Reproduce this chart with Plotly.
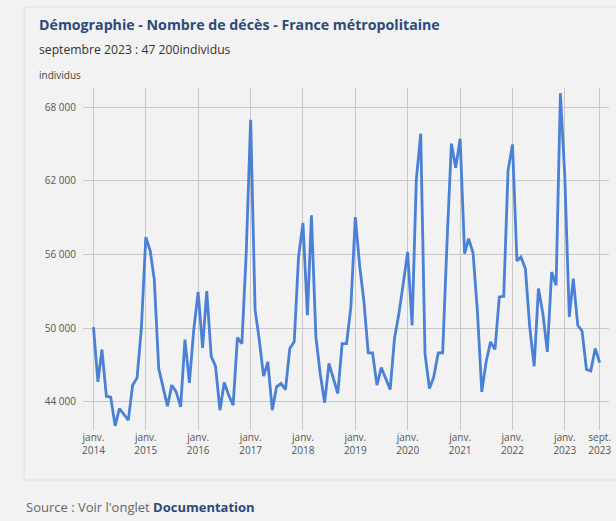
import plotly.graph_objects as go
import pandas as pd

start_month = "2014-01-01"
deaths = [
    50100, 45630, 48270, 44470, 44400, 42060, 43470, 42980, 42520, 45370, 45960, 49980,
    57420, 56280, 53960, 46720, 45230, 43660, 45370, 44820, 43600, 49080, 45550, 49840,
    52950, 48400, 53030, 47720, 46910, 43330, 45580, 44550, 43740, 49240, 48750, 56070,
    66970, 51520, 49160, 46100, 47260, 43330, 45230, 45500, 45010, 48350, 48890, 55800,
    58560, 51060, 59190, 49300, 46320, 43940, 47130, 45910, 44690, 48750, 48750, 51730,
    59050, 54990, 52280, 47990, 47990, 45370, 46800, 45910, 45010, 49160, 51190, 53630,
    56200, 50240, 62030, 65830, 47940, 45090, 46040, 47990, 47990, 56880, 65020, 63060,
    65420, 56070, 57290, 56120, 51460, 44820, 47260, 48890, 48270, 52550, 52600, 62850,
    64960, 55470, 55800, 54850, 50110, 46910, 53230, 51190, 48080, 54580, 53500, 69130,
    62300, 50920, 54040, 50240, 49780, 46640, 46530, 48350, 47200,
]
months = pd.date_range(start_month, periods=len(deaths), freq="MS")

x_tickvals = ["2014-01-01", "2015-01-01", "2016-01-01", "2017-01-01", "2018-01-01",
              "2019-01-01", "2020-01-01", "2021-01-01", "2022-01-01", "2023-01-01",
              "2023-09-01"]
x_ticktext = ["janv.<br>2014", "janv.<br>2015", "janv.<br>2016", "janv.<br>2017",
              "janv.<br>2018", "janv.<br>2019", "janv.<br>2020", "janv.<br>2021",
              "janv.<br>2022", "janv.<br>2023", "sept.<br>2023"]
y_tickvals = [44000, 50000, 56000, 62000, 68000]
y_ticktext = ["44 000", "50 000", "56 000", "62 000", "68 000"]

title = "Démographie - Nombre de décès - France métropolitaine"
subtitle = "septembre 2023 : 47 200individus"
unit = "individus"

FONT = "Open Sans"
W, H = 616, 521
L, R, T, B = 83, 5, 88, 91
PW, PH = W - L - R, H - T - B

def px(x):
    return (x - L) / PW

def py(y):
    return (H - B - y) / PH

fig = go.Figure()
fig.add_trace(go.Scatter(
    x=months, y=deaths, mode="lines",
    line=dict(color="#4a80d6", width=2.8),
    hoverinfo="skip",
))

fig.update_layout(
    width=W, height=H,
    margin=dict(l=L, r=R, t=T, b=B),
    paper_bgcolor="#f2f2f2", plot_bgcolor="#f2f2f2",
    showlegend=False,
    font=dict(family=FONT, color="#555555", size=10),
    xaxis=dict(
        type="date",
        range=["2013-10-20", "2023-11-05"],
        tickvals=x_tickvals, ticktext=x_ticktext,
        showgrid=True, gridcolor="#c9c9c9", gridwidth=1,
        zeroline=False, showline=False, ticks="",
        tickfont=dict(size=10, color="#555555", family=FONT),
        fixedrange=True,
    ),
    yaxis=dict(
        range=[41720, 69550],
        tickvals=y_tickvals, ticktext=y_ticktext,
        showgrid=True, gridcolor="#c9c9c9", gridwidth=1,
        zeroline=False, showline=False, ticks="",
        ticklabelstandoff=6,
        tickfont=dict(size=10, color="#555555", family=FONT),
        fixedrange=True,
    ),
    shapes=[dict(type="rect", xref="paper", yref="paper",
                 x0=px(24), x1=px(630), y0=py(480), y1=py(7),
                 line=dict(color="#e2e2e2", width=1.2), fillcolor="rgba(0,0,0,0)",
                 layer="below")],
    annotations=[
        dict(text=f"<b>{title}</b>", xref="paper", yref="paper",
             x=px(37), y=py(24), xanchor="left", yanchor="middle",
             showarrow=False, font=dict(size=14.2, color="#2b4a78", family=FONT)),
        dict(text=subtitle, xref="paper", yref="paper",
             x=px(37), y=py(50), xanchor="left", yanchor="middle",
             showarrow=False, font=dict(size=12.2, color="#333333", family=FONT)),
        dict(text=unit, xref="paper", yref="paper",
             x=px(37), y=py(75), xanchor="left", yanchor="middle",
             showarrow=False, font=dict(size=10, color="#444444", family=FONT)),
        dict(text="Source : Voir l'onglet <b><span style='color:#2b4a78'>Documentation</span></b>",
             xref="paper", yref="paper",
             x=px(24), y=py(507), xanchor="left", yanchor="middle",
             showarrow=False, font=dict(size=13, color="#666666", family=FONT)),
    ],
)

fig.write_html(
    "out.html",
    config={"displayModeBar": False, "staticPlot": True},
    post_script="document.body.style.margin='0';document.body.style.background='#f2f2f2';",
)
